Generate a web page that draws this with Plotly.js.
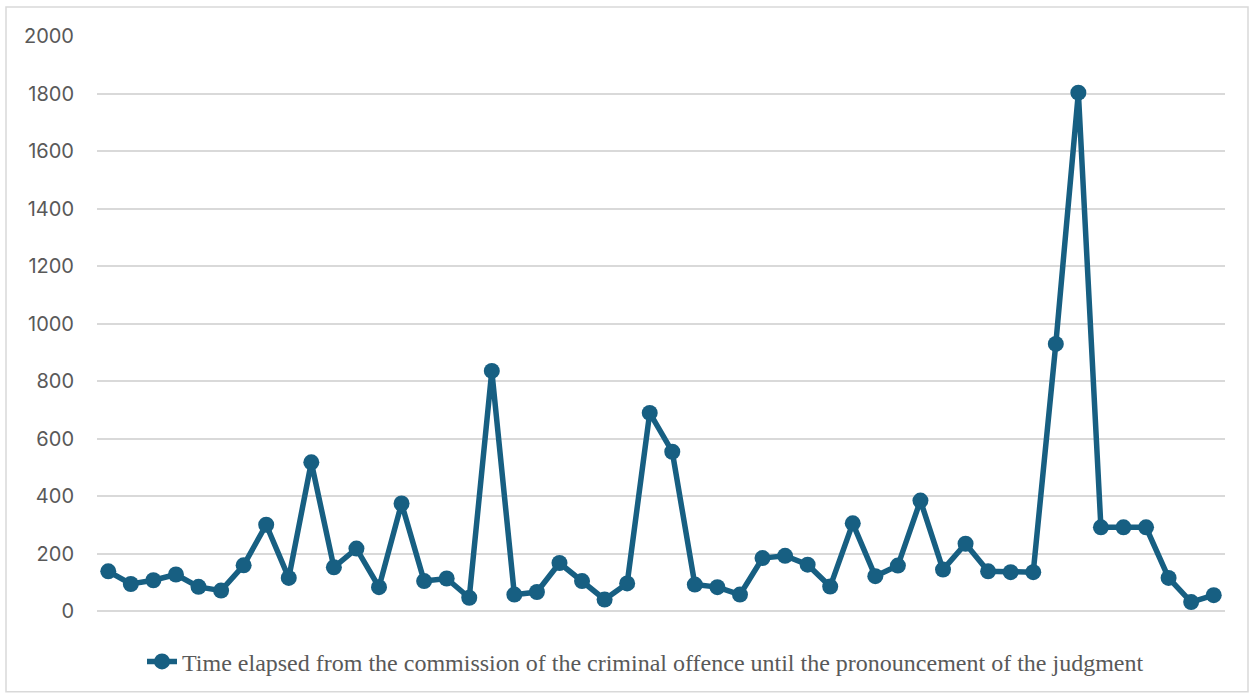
<!DOCTYPE html>
<html>
<head>
<meta charset="utf-8">
<script src="https://cdn.plot.ly/plotly-3.0.1.min.js"></script>
<style>
  html, body { margin: 0; padding: 0; background: #ffffff; }
  #chart { width: 1250px; height: 696px; }
</style>
</head>
<body>
<div id="chart"></div>
<script>
// Case numbers (one per judgment) along the horizontal axis
const caseIds = Array.from({length: 50}, (_, i) => String(i + 1));

// Days elapsed from the offence to the judgment, per case
const elapsedDays = [
  138, 94, 107, 127, 84, 71, 159, 300, 115, 517,
  152, 217, 83, 374, 104, 113, 46, 835, 57, 66,
  167, 104, 40, 96, 689, 554, 92, 83, 57, 184,
  192, 161, 85, 305, 121, 158, 384, 144, 234, 138,
  135, 135, 929, 1803, 291, 291, 291, 115, 31, 55
];

const yTicks = [0, 200, 400, 600, 800, 1000, 1200, 1400, 1600, 1800, 2000];
const seriesName = 'Time elapsed from the commission of the criminal offence until the pronouncement of the judgment';

const W = 1250, H = 696;
const M = {l: 97, r: 25, t: 36, b: 83};
const pw = W - M.l - M.r, ph = H - M.t - M.b;
// frame around the whole chart, expressed in paper coordinates
const fx0 = (6 - M.l) / pw, fx1 = (1248 - M.l) / pw;
const fy1 = 1 + (M.t - 7) / ph, fy0 = -(M.b - (H - 694)) / ph;

const lineColor = '#175f82';

const trace = {
  type: 'scatter',
  mode: 'lines+markers',
  x: caseIds,
  y: elapsedDays,
  name: seriesName,
  line: {color: lineColor, width: 5.5},
  marker: {color: lineColor, size: 16},
  showlegend: true
};

const layout = {
  width: W, height: H,
  margin: M,
  paper_bgcolor: '#ffffff',
  plot_bgcolor: '#ffffff',
  showlegend: true,
  xaxis: {
    type: 'category',
    range: [-0.5, elapsedDays.length - 0.5],
    showticklabels: false,
    showgrid: false,
    zeroline: false,
    showline: false,
    ticks: ''
  },
  yaxis: {
    range: [0, 2000],
    tickvals: yTicks,
    ticktext: yTicks.map(String),
    showgrid: true,
    gridcolor: '#d9d9d9',
    gridwidth: 2,
    zeroline: true,
    zerolinecolor: '#d9d9d9',
    zerolinewidth: 2,
    showline: false,
    ticks: '',
    ticklabelstandoff: 22,
    tickfont: {family: 'Inter, "Open Sans", sans-serif', size: 20, color: '#595959'}
  },
  legend: {
    orientation: 'h',
    x: (142 - M.l) / pw, xanchor: 'left',
    y: -(664 - (M.t + ph)) / ph, yanchor: 'middle',
    font: {family: '"Liberation Serif", "Times New Roman", serif', size: 24, color: '#595959'},
    bgcolor: 'rgba(0,0,0,0)'
  },
  shapes: [{
    type: 'rect', xref: 'paper', yref: 'paper',
    x0: fx0, x1: fx1, y0: fy0, y1: fy1,
    line: {color: '#d9d9d9', width: 1.5},
    fillcolor: 'rgba(0,0,0,0)',
    layer: 'below'
  }]
};

Plotly.newPlot('chart', [trace], layout, {displayModeBar: false, staticPlot: true});
</script>
</body>
</html>
